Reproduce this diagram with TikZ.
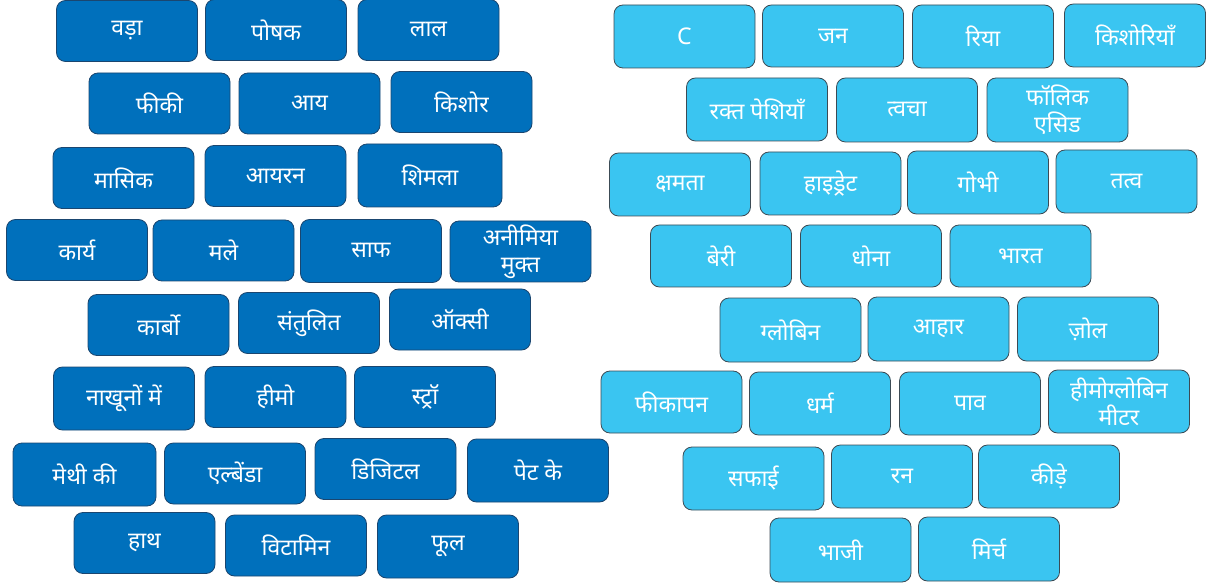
\documentclass[tikz,border=0pt]{standalone}
\usepackage{fontspec}
\setmainfont{Noto Sans}
\newfontfamily\deva[Script=Devanagari]{Noto Sans}
\definecolor{darkfill}{HTML}{0070BC}
\definecolor{darkedge}{HTML}{1A4670}
\definecolor{lightfill}{HTML}{3AC5F1}
\definecolor{lightedge}{HTML}{3C4B55}
\tikzset{
  tile/.style={rounded corners=9pt, minimum width=141pt, minimum height=61pt, inner sep=0pt,
    text=white, align=center, font=\deva\fontsize{23}{27}\selectfont, line width=0.8pt},
  darktile/.style={tile, fill=darkfill, draw=darkedge},
  lighttile/.style={tile, fill=lightfill, draw=lightedge},
}
\begin{document}
\begin{tikzpicture}[x=1pt,y=-1pt]
\useasboundingbox (0,0) rectangle (1223,585);
% left side
\node[darktile] (l1) at (127,31) {वड़ा};
\node[darktile] (l2) at (276,30) {पोषक};
\node[darktile] (l3) at (428.5,30) {लाल};
\node[darktile] (l4) at (159.5,103.5) {फीकी};
\node[darktile] (l5) at (309.5,103.5) {आय};
\node[darktile] (l6) at (461.5,102) {किशोर};
\node[darktile] (l7) at (123.5,178) {मासिक};
\node[darktile] (l8) at (275.5,176) {आयरन};
\node[darktile, minimum width=144pt, minimum height=63pt] (l9) at (430,175.5) {शिमला};
\node[darktile] (l10) at (77,250) {कार्य};
\node[darktile] (l11) at (223.5,250.5) {मले};
\node[darktile, minimum height=63pt] (l12) at (371,251) {साफ};
\node[darktile] (l13) at (520.5,251.5) {अनीमिया\\मुक्त};
\node[darktile] (l14) at (158.5,325) {कार्बो};
\node[darktile] (l15) at (309,323) {संतुलित};
\node[darktile] (l16) at (460,319.5) {ऑक्सी};
\node[darktile, minimum height=63pt] (l17) at (124,398.5) {नाखूनों में};
\node[darktile] (l18) at (275.5,397) {हीमो};
\node[darktile] (l19) at (425,397) {स्ट्रॉ};
\node[darktile, minimum width=143pt, minimum height=63pt] (l20) at (84.5,474.5) {मेथी की};
\node[darktile] (l21) at (235,473.5) {एल्बेंडा};
\node[darktile] (l22) at (385.5,469) {डिजिटल};
\node[darktile, minimum height=63pt] (l23) at (538,470.5) {पेट के};
\node[darktile] (l24) at (144.5,543) {हाथ};
\node[darktile] (l25) at (296,545.5) {विटामिन};
\node[darktile, minimum height=63pt] (l26) at (448,546.5) {फूल};
% right side
\node[lighttile, minimum height=63pt] (r1) at (684.5,36.5) {\rmfamily C};
\node[lighttile, minimum height=62pt] (r2) at (833,36) {जन};
\node[lighttile, minimum height=63pt] (r3) at (983,36.5) {रिया};
\node[lighttile, minimum height=63pt] (r4) at (1135,35.5) {किशोरियाँ};
\node[lighttile, minimum height=63pt] (r5) at (757,109.5) {रक्त पेशियाँ};
\node[lighttile, minimum height=64pt] (r6) at (907,110) {त्वचा};
\node[lighttile, minimum height=64pt] (r7) at (1057.5,110) {फॉलिक\\एसिड};
\node[lighttile, minimum height=63pt] (r8) at (680,184.5) {क्षमता};
\node[lighttile, minimum height=63pt] (r9) at (830.5,183.5) {हाइड्रेट};
\node[lighttile, minimum height=63pt] (r10) at (978,182.5) {गोभी};
\node[lighttile, minimum height=63pt] (r11) at (1126.5,181.5) {तत्व};
\node[lighttile, minimum height=62pt] (r12) at (721,256) {बेरी};
\node[lighttile, minimum height=62pt] (r13) at (871,256) {धोना};
\node[lighttile, minimum height=62pt] (r14) at (1020.5,256) {भारत};
\node[lighttile, minimum height=64pt] (r15) at (790.5,330) {ग्लोबिन};
\node[lighttile, minimum height=64pt] (r16) at (938.5,329) {आहार};
\node[lighttile, minimum height=64pt] (r17) at (1088,329) {ज़ोल};
\node[lighttile, minimum height=62pt] (r18) at (671.5,402) {फीकापन};
\node[lighttile, minimum height=63pt] (r19) at (820,403.5) {धर्म};
\node[lighttile, minimum height=63pt] (r20) at (970,403.5) {पाव};
\node[lighttile, minimum height=63pt] (r21) at (1119,401.5) {हीमोग्लोबिन\\मीटर};
\node[lighttile, minimum height=63pt] (r22) at (753.5,478.5) {सफाई};
\node[lighttile, minimum height=63pt] (r23) at (902,476.5) {रन};
\node[lighttile, minimum height=63pt] (r24) at (1049,476.5) {कीड़े};
\node[lighttile, minimum height=64pt] (r25) at (840.5,550) {भाजी};
\node[lighttile, minimum height=64pt] (r26) at (989,549) {मिर्च};
\end{tikzpicture}
\end{document}
